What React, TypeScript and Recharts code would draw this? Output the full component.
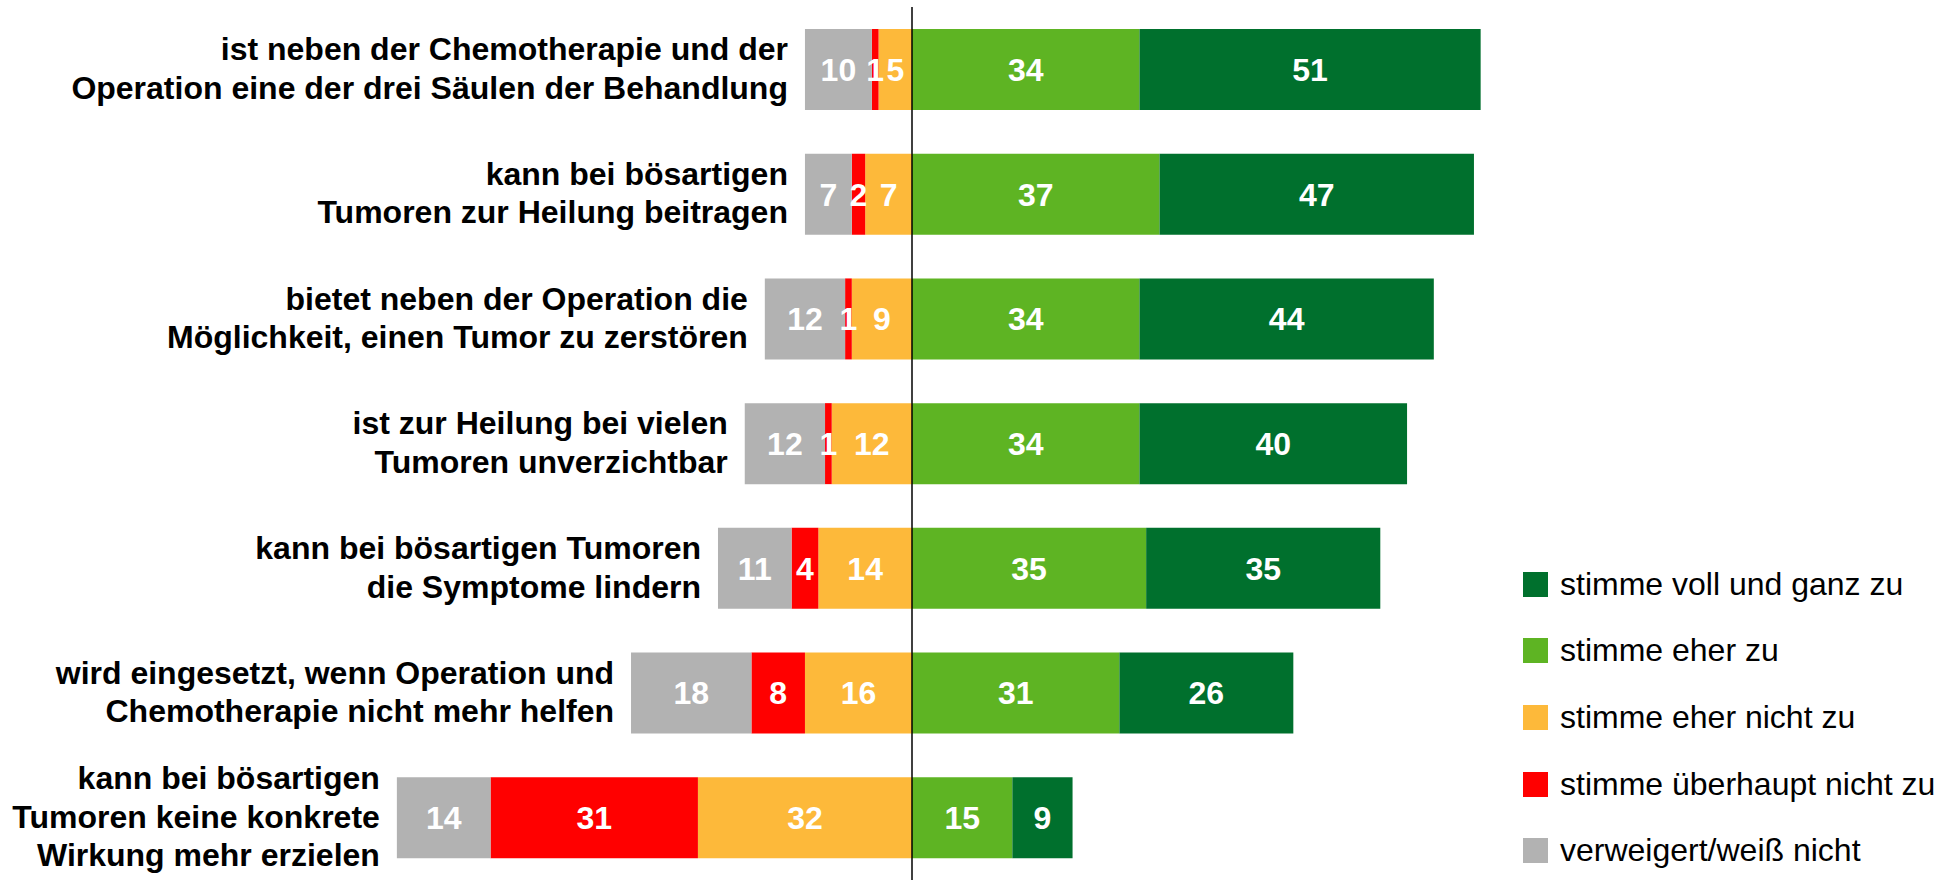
import { BarChart, Bar, XAxis, YAxis, ReferenceLine, LabelList, Legend } from "recharts";

const FONT = '"Liberation Sans", Arial, sans-serif';

const statements = [
  "ist neben der Chemotherapie und der\nOperation eine der drei Säulen der Behandlung",
  "kann bei bösartigen\nTumoren zur Heilung beitragen",
  "bietet neben der Operation die\nMöglichkeit, einen Tumor zu zerstören",
  "ist zur Heilung bei vielen\nTumoren unverzichtbar",
  "kann bei bösartigen Tumoren\ndie Symptome lindern",
  "wird eingesetzt, wenn Operation und\nChemotherapie nicht mehr helfen",
  "kann bei bösartigen\nTumoren keine konkrete\nWirkung mehr erzielen",
];

// agreement (drawn to the right of zero)
const vollUndGanz = [51, 47, 44, 40, 35, 26, 9];
const eherZu = [34, 37, 34, 34, 35, 31, 15];
// disagreement / no answer (drawn to the left of zero)
const eherNicht = [5, 7, 9, 12, 14, 16, 32];
const ueberhauptNicht = [1, 2, 1, 1, 4, 8, 31];
const weissNicht = [10, 7, 12, 12, 11, 18, 14];

const SERIES = [
  { key: "eherNicht", label: "stimme eher nicht zu", color: "#FDB93A" },
  { key: "ueberhauptNicht", label: "stimme überhaupt nicht zu", color: "#FF0000" },
  { key: "weissNicht", label: "verweigert/weiß nicht", color: "#B2B2B2" },
  { key: "eherZu", label: "stimme eher zu", color: "#5EB423" },
  { key: "vollUndGanz", label: "stimme voll und ganz zu", color: "#00702D" },
];

const LEGEND_ORDER = ["vollUndGanz", "eherZu", "eherNicht", "ueberhauptNicht", "weissNicht"];

const data = statements.map((name, i) => ({
  name,
  eherNicht: -eherNicht[i],
  ueberhauptNicht: -ueberhauptNicht[i],
  weissNicht: -weissNicht[i],
  eherZu: eherZu[i],
  vollUndGanz: vollUndGanz[i],
}));

function CategoryLabel(props: any) {
  const vb = props.viewBox && props.viewBox.x != null ? props.viewBox : props;
  const x = Number(vb.x);
  const w = Number(vb.width);
  const y = Number(vb.y);
  const h = Number(vb.height);
  const left = Math.min(x, x + w);
  const cy = y + h / 2;
  const lines = String(props.value).split("\n");
  const lh = 38.4;
  const first = cy - ((lines.length - 1) * lh) / 2 + 10;
  return (
    <text textAnchor="end" fontFamily={FONT} fontSize={32} fontWeight="bold" fill="#000">
      {lines.map((l, i) => (
        <tspan key={i} x={left - 17} y={first + i * lh}>
          {l}
        </tspan>
      ))}
    </text>
  );
}

function LegendBox() {
  return (
    <div style={{ fontFamily: FONT, fontSize: 32, color: "#000" }}>
      {LEGEND_ORDER.map((k) => {
        const s = SERIES.find((d) => d.key === k)!;
        return (
          <div key={k} style={{ display: "flex", alignItems: "center", height: 66.6 }}>
            <span style={{ width: 25, height: 25, background: s.color, marginRight: 12, flex: "none" }} />
            <span style={{ whiteSpace: "nowrap" }}>{s.label}</span>
          </div>
        );
      })}
    </div>
  );
}

export default function App() {
  return (
    <div style={{ position: "absolute", left: 0, top: 0, background: "#fff" }}>
      <BarChart
        width={1953}
        height={880}
        data={data}
        layout="vertical"
        stackOffset="sign"
        margin={{ top: 7, right: 372, bottom: 0, left: 243 }}
      >
        <XAxis type="number" domain={[-100, 100]} hide />
        <YAxis type="category" dataKey="name" hide />
        {SERIES.map((s) => (
          <Bar key={s.key} dataKey={s.key} stackId="a" fill={s.color} barSize={81} isAnimationActive={false}>
            <LabelList
              dataKey={s.key}
              position="center"
              fill="#fff"
              fontWeight="bold"
              fontSize={32}
              fontFamily={FONT}
              formatter={(v: any) => Math.abs(Number(v))}
            />
            {s.key === "weissNicht" && <LabelList dataKey="name" content={CategoryLabel} />}
          </Bar>
        ))}
        <ReferenceLine x={0} stroke="#000" strokeWidth={1.5} />
        <Legend
          layout="horizontal"
          verticalAlign="middle"
          align="center"
          content={() => <LegendBox />}
          wrapperStyle={{ left: 1523, top: 551, width: 430, height: "auto" }}
        />
      </BarChart>
    </div>
  );
}
